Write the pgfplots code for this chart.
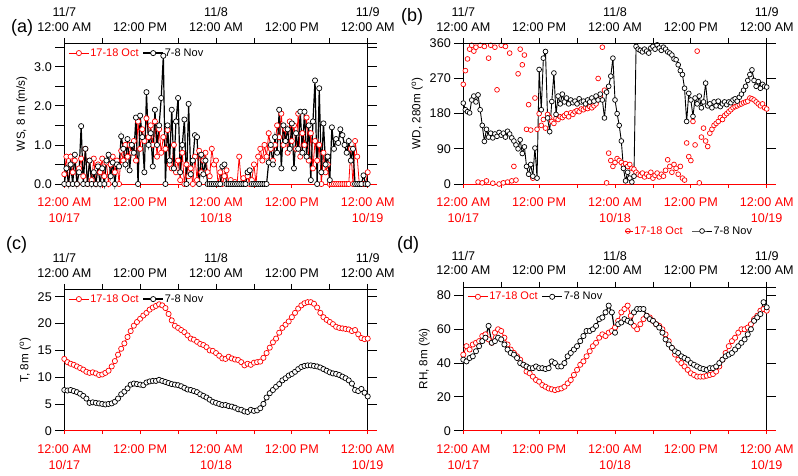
\documentclass[border=0pt]{standalone}
\usepackage{fontspec}
\setmainfont{Liberation Sans}
\usepackage{pgfplots}
\usepackage{pgfplotstable}
\pgfplotsset{compat=1.18}

\newcommand{\tickfont}{\fontsize{12.6}{14.5}\selectfont}
\newcommand{\legfont}{\fontsize{11}{12}\selectfont}
\newcommand{\labfont}{\fontsize{11.7}{13}\selectfont}
\newcommand{\panfont}{\fontsize{18}{20}\selectfont}

\pgfplotstableread{
t r b
0 0.25 0.0
20 0.7 0.4
40 0.0 0.0
60 0.7 0.5
80 0.3 0.0
100 0.6 0.75
120 0.0 0.0
140 0.4 0.3
160 0.65 1.48
180 0.2 0.0
200 0.9 0.9
220 0.0 0.0
240 0.6 0.6
260 0.1 0.0
280 0.65 0.3
300 0.0 0.0
320 0.5 0.45
340 0.3 0.0
360 0.65 0.4
380 0.2 0.0
400 0.55 0.6
420 0.0 0.75
440 0.5 0.2
460 0.7 0.55
480 0.3 0.0
500 0.6 0.5
520 0.0 0.45
540 0.85 1.22
560 0.6 0.9
580 1.0 0.5
600 0.7 1.15
620 1.0 0.35
640 0.8 1.0
660 1.1 0.8
680 0.6 1.7
700 1.6 0.0
720 0.9 1.75
740 1.4 1.2
760 1.1 0.3
780 1.68 2.35
800 1.2 1.0
820 1.5 1.3
840 1.0 0.45
860 1.6 1.9
880 0.7 1.0
900 1.4 1.5
920 0.8 2.2
940 1.2 3.28
960 0.9 0.0
980 1.38 1.5
1000 0.5 0.6
1020 0.4 1.9
1040 1.0 0.4
1060 0.3 1.6
1080 0.6 2.2
1100 0.1 0.3
1120 0.8 1.0
1140 0.0 1.65
1160 0.5 0.0
1180 0.2 2.05
1200 0.4 0.25
1220 0.0 0.6
1240 0.7 1.25
1260 0.1 1.2
1280 0.85 0.0
1300 0.3 0.75
1320 0.6 0.25
1340 0.8 0.6
1360 0.3 0.0
1380 0.2 0.0
1400 0.9 0.0
1420 0.5 0.0
1440 0.6 0.0
1460 0.0 0.0
1480 0.3 0.0
1500 0.0 0.45
1520 0.2 0.5
1540 0.35 0.0
1560 0.0 0.0
1580 0.1 0.0
1600 0.0 0.0
1620 0.05 0.0
1640 0.0 0.0
1660 0.7 0.0
1680 0.0 0.0
1700 0.15 0.0
1720 0.0 0.0
1740 0.2 0.3
1760 0.0 0.35
1780 0.1 0.0
1800 0.5 0.0
1820 0.0 0.0
1840 0.7 0.0
1860 0.9 0.0
1880 0.6 0.0
1900 1.0 0.0
1920 0.7 0.0
1940 1.3 0.55
1960 0.9 1.0
1980 0.6 0.5
2000 1.0 1.2
2020 1.5 0.8
2040 1.2 1.9
2060 1.8 0.4
2080 1.0 1.5
2100 1.4 1.1
2120 0.8 1.4
2140 1.6 0.9
2160 1.1 1.55
2180 1.5 0.4
2200 0.9 1.3
2220 1.8 0.9
2240 0.7 1.85
2260 1.3 0.8
2280 1.0 1.85
2300 1.7 0.7
2320 0.6 1.5
2340 1.3 0.1
2360 0.4 1.6
2380 1.1 2.65
2400 0.6 0.0
2420 1.0 2.45
2440 0.0 0.3
2460 0.8 1.55
2480 0.3 0.5
2500 0.5 0.7
2520 0.0 0.1
2540 0.0 1.45
2560 0.0 0.9
2580 0.0 1.15
2600 0.0 1.05
2620 0.0 1.4
2640 0.0 1.25
2660 0.0 1.0
2680 0.0 0.8
2700 0.0 1.1
2720 0.9 0.6
2740 0.0 0.9
2760 1.1 0.0
2780 0.7 0.0
2800 0.0 0.0
2820 0.0 0.0
2840 0.0 0.22
2860 0.0 0.0
2880 0.3 0.0
}\tabA

\pgfplotstableread{
t r b
0 255 207
20 290 190
40 320 185
60 345 182
80 355 215
100 340 225
120 350 210
140 5 228
160 355 190
180 3 150
200 352 109
220 8 140
240 322 120
260 355 130
280 2 118
300 350 128
320 241 122
340 0 132
360 355 125
380 3 130
400 352 120
420 5 135
440 335 128
460 8 118
480 45 110
500 10 100
520 282 90
540 345 113
560 305 78
580 330 95
600 140 45
620 203 25
640 138 50
660 15 20
680 220 92
700 140 15
720 180 293
740 150 190
760 165 322
780 143 339
800 178 169
820 170 134
840 160 211
860 155 284
880 168 178
900 165 225
920 172 205
940 170 230
960 175 210
980 180 220
1000 172 205
1020 182 215
1040 178 208
1060 185 212
1080 188 205
1100 185 218
1120 192 210
1140 190 212
1160 195 205
1180 193 215
1200 198 210
1220 195 220
1240 200 212
1260 205 225
1280 270 215
1300 225 230
1320 350 215
1340 240 169
1360 3 235
1380 79 250
1400 60 276
1420 45 322
1440 55 215
1460 65 180
1480 60 150
1500 55 110
1520 48 40
1540 52 8
1560 45 30
1580 50 15
1600 40 5
1620 38 20
1640 30 352
1660 25 345
1680 22 342
1700 28 338
1720 18 345
1740 25 340
1760 20 335
1780 30 348
1800 15 352
1820 22 345
1840 28 356
1860 18 348
1880 25 342
1900 20 350
1920 35 345
1940 62 338
1960 45 335
1980 30 330
2000 50 320
2020 40 318
2040 25 305
2060 45 290
2080 15 280
2100 10 245
2120 105 160
2140 70 232
2160 60 215
2180 160 173
2200 100 220
2220 340 205
2240 3 225
2260 120 195
2280 143 210
2300 110 258
2320 96 200
2340 130 205
2360 140 195
2380 150 210
2400 155 200
2420 160 212
2440 170 198
2460 165 205
2480 175 210
2500 180 203
2520 185 210
2540 190 208
2560 195 215
2580 198 218
2600 200 212
2620 203 222
2640 205 230
2660 208 240
2680 210 250
2700 212 265
2720 220 280
2740 218 292
2760 215 265
2780 210 250
2800 205 262
2820 200 245
2840 205 255
2860 195 250
2880 192 248
}\tabB

\pgfplotstableread{
t r b
0 13.4 7.6
30 12.8 7.5
60 12.5 7.6
90 12.3 7.4
120 12.0 7.2
150 11.7 6.9
180 11.4 6.5
210 11.0 6.0
240 10.8 5.2
270 10.9 5.3
300 10.7 5.2
330 10.4 5.1
360 10.5 5.0
390 10.8 4.9
420 11.2 5.0
450 12.0 5.1
480 13.0 5.4
510 14.2 6.0
540 15.3 6.8
570 16.3 7.3
600 17.5 7.9
630 18.6 8.6
660 19.6 8.8
690 20.3 8.7
720 20.9 8.6
750 21.5 8.5
780 22.0 9.0
810 22.6 9.2
840 23.0 9.3
870 23.3 9.3
900 23.6 9.5
930 23.4 9.3
960 22.9 9.1
990 21.8 8.9
1020 20.6 8.7
1050 19.6 8.6
1080 19.2 8.5
1110 18.8 8.3
1140 18.4 8.0
1170 17.8 7.7
1200 17.2 7.6
1230 17.0 7.4
1260 16.6 7.2
1290 16.2 6.8
1320 16.0 6.5
1350 15.6 6.2
1380 15.0 5.8
1410 14.9 5.4
1440 14.5 5.2
1470 14.0 5.0
1500 13.5 4.8
1530 13.4 4.8
1560 13.8 4.6
1590 13.5 4.5
1620 13.3 4.3
1650 13.2 4.0
1680 12.8 3.9
1710 12.2 3.6
1740 12.5 3.5
1770 12.3 3.9
1800 12.7 3.7
1830 12.8 3.8
1860 12.9 4.2
1890 13.6 5.0
1920 14.5 6.2
1950 15.5 7.0
1980 16.5 7.6
2010 17.2 8.2
2040 18.3 8.7
2070 19.2 9.4
2100 19.8 9.8
2130 20.4 10.3
2160 21.2 10.6
2190 22.0 11.0
2220 22.8 11.5
2250 23.4 11.9
2280 23.8 12.1
2310 24.0 12.2
2340 24.0 12.2
2370 23.7 12.1
2400 23.0 12.0
2430 22.0 11.8
2460 21.2 11.5
2490 20.7 11.2
2520 20.3 10.9
2550 19.9 10.7
2580 19.4 10.6
2610 19.2 10.4
2640 19.1 10.1
2670 19.0 9.8
2700 18.9 9.4
2730 18.6 8.8
2760 18.8 7.6
2790 18.0 7.4
2820 17.3 7.8
2850 17.1 7.1
2880 17.2 6.4
}\tabC

\pgfplotstableread{
t r b
0 45 42
30 50 41
60 48 43
90 51 44
120 52 47
150 53 50
180 56 53
210 57 55
240 54 62
270 52 52
300 58 53
330 60 55
360 59 54
390 55 51
420 51 48
450 48 46
480 46 45
510 44 43
540 42 40
570 39 39
600 35 38
630 34 37
660 32 37
690 30 38
720 29 37
750 27 37
780 26 36.5
810 25 37
840 24.5 41
870 24 40
900 24.5 38
930 25 38
960 26 40
990 28 44
1020 30 46
1050 33 48
1080 36 50
1110 39 53
1140 41 56
1170 44 59
1200 47 59
1230 50 60
1260 52 62
1290 55 66
1320 57 67
1350 56 70
1380 58 74
1410 59 70
1440 61 58
1470 65 63
1500 70 64
1530 72 66
1560 74 65
1590 68 64
1620 62 70
1650 60 72
1680 63 72
1710 66 72
1740 68 68
1770 67 66
1800 65 65
1830 63 63
1860 62 61
1890 60 58
1920 57 54
1950 53 51
1980 49 49
2010 45 47
2040 42 46
2070 40 44
2100 38 43
2130 36 42
2160 34 40
2190 33 39
2220 32 38
2250 32 37
2280 32 36.5
2310 32.5 36
2340 33 37
2370 33.5 37
2400 35 38
2430 38 40
2460 42 42
2490 46 44
2520 50 45
2550 53 46
2580 55 48
2610 58 50
2640 60 52
2670 60 54
2700 61 57
2730 63 60
2760 66 65
2790 68 67
2820 71 69
2850 72 76
2880 71 73
}\tabD

\pgfplotsset{
  base/.style={scale only axis, /pgf/number format/assume math mode=true,
    tick label style={font=\tickfont}, label style={font=\labfont}},
  yonly/.style={base, width=303.4pt, xmin=0, xmax=2880, hide x axis,
    ytick pos=both, yticklabel pos=left, tick align=outside,
    major tick length=9pt, minor tick length=9pt,
    axis line style={black, line width=0.8pt},
    every tick/.append style={black, line width=0.8pt}},
  botax/.style={base, width=313pt, xmin=0, xmax=2971, hide y axis,
    axis x line*=bottom, x axis line style={red, -, line width=0.8pt},
    xtick={0,720,1440,2160,2880}, minor xtick={360,1080,1800,2520},
    tick align=outside, major tick length=3.5pt, minor tick length=3.5pt,
    every tick/.append style={red, line width=0.8pt},
    xticklabels={{12:00 AM\\[1.5pt]10/17},{12:00 PM},{12:00 AM\\[1.5pt]10/18},{12:00 PM},{12:00 AM\\[1.5pt]10/19}},
    xticklabel style={red, align=center, yshift=-7pt},
    clip=false,
    legend image code/.code={\draw[mark repeat=2,mark phase=2,##1] plot coordinates {(0pt,0pt) (10pt,0pt) (20pt,0pt)};},
    legend columns=2,
    legend style={draw=none, fill=none, inner xsep=0pt, inner ysep=0pt, font=\legfont,
      nodes={inner sep=1pt},
      /tikz/every even column/.append style={column sep=3pt}}},
  onemark/.style={legend image code/.code={\draw[##1] plot coordinates {(3pt,0pt)}; \path (0pt,0pt) -- (8pt,0pt);}},
  topax/.style={base, width=313pt, xmin=0, xmax=2971, hide y axis,
    axis x line*=top, x axis line style={black, -, line width=0.8pt},
    xtick={0,720,1440,2160,2880}, minor xtick={360,1080,1800,2520},
    tick align=outside, major tick length=5.5pt, minor tick length=5.5pt,
    every tick/.append style={black, line width=0.8pt},
    xticklabels={{11/7\\12:00 AM},{12:00 PM},{11/8\\12:00 AM},{12:00 PM},{11/9\\12:00 AM}},
    xticklabel style={black, align=center, yshift=3pt}},
  inleg/.style={legend style={at={(0,1)}, anchor=north west, xshift=4pt, yshift=-4pt}},
  redp/.style={red, line width=0.8pt, mark=*, mark size=2.6pt,
    mark options={fill=white, draw=red, line width=0.7pt, solid}},
  blkp/.style={black, line width=1.2pt, mark=*, mark size=2.6pt,
    mark options={fill=white, draw=black, line width=0.7pt, solid}},
}

\begin{document}
\begin{tikzpicture}
\useasboundingbox (0,0) rectangle (798pt,475pt);

% ---------- panel (a)
\begin{axis}[yonly, at={(64.3pt,291pt)}, anchor=south west, height=140.7pt,
  ymin=0, ymax=3.6, ytick={0,1,2,3}, yticklabels={0.0,1.0,2.0,3.0},
  minor ytick={0.5,1.5,2.5,3.5}, ylabel={WS, 8 m (m/s)}]
\end{axis}
\begin{axis}[botax, inleg, at={(64.3pt,291pt)}, anchor=south west, height=140.7pt,
  ymin=0, ymax=3.6]
\addplot[redp] table[x=t, y=r] {\tabA};
\addlegendentry{\textcolor{red}{17-18 Oct}}
\addplot[blkp] table[x=t, y=b] {\tabA};
\addlegendentry{7-8 Nov}
\end{axis}
\begin{axis}[topax, at={(64.3pt,291pt)}, anchor=south west, height=140.7pt,
  ymin=0, ymax=3.6]
\end{axis}

% ---------- panel (b)
\begin{axis}[yonly, at={(463.3pt,291pt)}, anchor=south west, height=140.7pt,
  ymin=0, ymax=360, ytick={0,90,180,270,360}, ylabel={WD, 280m (\textsuperscript{o})}]
\end{axis}
\begin{axis}[botax, at={(463.3pt,291pt)}, anchor=south west, height=140.7pt,
  ymin=0, ymax=360,
  legend style={at={(0,0)}, anchor=west, xshift=161pt, yshift=-47pt,
    /tikz/every even column/.append style={column sep=8pt}}]
\addplot[redp, only marks, mark size=2.4pt, onemark] table[x=t, y=r] {\tabB};
\addlegendentry{\textcolor{red}{17-18 Oct}}
\addplot[blkp, line width=0.9pt, mark size=2.4pt] table[x=t, y=b] {\tabB};
\addlegendentry{7-8 Nov}
\end{axis}
\begin{axis}[topax, at={(463.3pt,291pt)}, anchor=south west, height=140.7pt,
  ymin=0, ymax=360]
\end{axis}

% ---------- panel (c)
\begin{axis}[yonly, at={(64.3pt,44.3pt)}, anchor=south west, height=141.4pt,
  ymin=0, ymax=26.4, ytick={0,5,10,15,20,25}, ylabel={T, 8m (\textsuperscript{o})}]
\end{axis}
\begin{axis}[botax, inleg, at={(64.3pt,44.3pt)}, anchor=south west, height=141.4pt,
  ymin=0, ymax=26.4]
\addplot[redp] table[x=t, y=r] {\tabC};
\addlegendentry{\textcolor{red}{17-18 Oct}}
\addplot[blkp] table[x=t, y=b] {\tabC};
\addlegendentry{7-8 Nov}
\end{axis}
\begin{axis}[topax, at={(64.3pt,44.3pt)}, anchor=south west, height=141.4pt,
  ymin=0, ymax=26.4]
\end{axis}

% ---------- panel (d)
\begin{axis}[yonly, at={(463.3pt,44.3pt)}, anchor=south west, height=143.7pt,
  ymin=0, ymax=85, ytick={0,20,40,60,80}, ylabel={RH, 8m (\%)}]
\end{axis}
\begin{axis}[botax, inleg, at={(463.3pt,44.3pt)}, anchor=south west, height=143.7pt,
  ymin=0, ymax=85]
\addplot[redp] table[x=t, y=r] {\tabD};
\addlegendentry{\textcolor{red}{17-18 Oct}}
\addplot[blkp] table[x=t, y=b] {\tabD};
\addlegendentry{7-8 Nov}
\end{axis}
\begin{axis}[topax, at={(463.3pt,44.3pt)}, anchor=south west, height=143.7pt,
  ymin=0, ymax=85]
\end{axis}

\node[anchor=west, font=\panfont, inner sep=0pt] at (11pt,447pt) {(a)};
\node[anchor=west, font=\panfont, inner sep=0pt] at (401pt,458pt) {(b)};
\node[anchor=west, font=\panfont, inner sep=0pt] at (6pt,230pt) {(c)};
\node[anchor=west, font=\panfont, inner sep=0pt] at (397pt,230pt) {(d)};
\end{tikzpicture}
\end{document}
